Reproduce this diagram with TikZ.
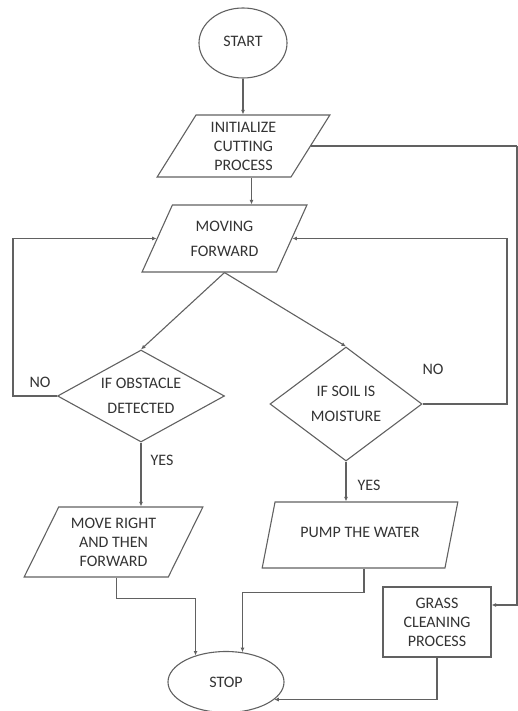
\documentclass[tikz,border=0pt]{standalone}
\usepackage{fontspec}
\setmainfont{Carlito}
\usetikzlibrary{shapes.geometric,arrows.meta}
\begin{document}
\begin{tikzpicture}[x=1pt,y=-1pt,
  line/.style={draw=black!62, line width=1.1pt},
  arr/.style={line, -{Latex[length=4.5pt,width=4pt]}},
  txt/.style={text=black!80, font=\fontsize{16}{19}\selectfont, align=center},
  base/.style={txt, draw=black!62, line width=1.1pt, inner sep=0pt},
  para/.style={base, trapezium, trapezium left angle=61, trapezium right angle=119, trapezium stretches=true},
  dec/.style={base, diamond},
  term/.style={base, ellipse},
  proc/.style={base, rectangle},
  lbl/.style={txt}
]
\useasboundingbox (0,0) rectangle (518,711);

\node[term, minimum width=88pt, minimum height=70pt] (start) at (243,43) {\raisebox{4pt}{START}};
\node[para, minimum width=173pt, minimum height=62pt] (init) at (243.5,146) {INITIALIZE\\CUTTING\\PROCESS};
\node[para, minimum width=165pt, minimum height=67pt] (mov) at (224.5,238.5) {MOVING\\[6pt]FORWARD};
\node[dec, aspect=1.8, minimum width=167pt, minimum height=92pt] (obs) at (141,396) {IF OBSTACLE\\[6pt]DETECTED};
\node[dec, aspect=1.33, minimum width=152pt, minimum height=114pt] (soil) at (346,404) {IF SOIL IS\\[6pt]MOISTURE};
\node[para, minimum width=179pt, minimum height=70pt] (mr) at (113.5,542) {MOVE RIGHT\\AND THEN\\FORWARD};
\node[para, minimum width=196pt, minimum height=66pt] (pump) at (360,535) {\raisebox{6pt}{PUMP THE WATER}};
\node[proc, minimum width=108pt, minimum height=70pt] (grass) at (437,622) {GRASS\\CLEANING\\PROCESS};
\node[term, minimum width=116pt, minimum height=61pt] (stop) at (226,682) {STOP};

\node[lbl] (no1) at (40,382) {NO};
\node[lbl] (no2) at (433,369) {NO};
\node[lbl] (yes1) at (162,460) {YES};
\node[lbl] (yes2) at (369,485) {YES};

\coordinate (rc) at (517,0);
\coordinate (lc) at (13,0);
\coordinate (rc2) at (507,0);

\draw[arr] (start.south) -- (start.south |- init.north);
\draw[arr] ([xshift=8pt]init.south) -- ([xshift=8pt]init.south |- mov.north);
\draw[line] (init.east) -- (init.east -| rc);
\draw[arr] (init.east -| rc) |- ([yshift=17pt]grass.east);
\draw[arr] (mov.south) -- (obs.north);
\draw[arr] (mov.south) -- (soil.north);
\draw[arr] (obs.west) -- (obs.west -| lc) |- (mov.west);
\draw[arr] (soil.east) -- (soil.east -| rc2) |- (mov.east);
\draw[arr] (obs.south) -- (obs.south |- mr.north);
\draw[arr] (soil.south) -- (soil.south |- pump.north);
\draw[arr] ([xshift=3pt]mr.south) -- ++(0,21) -| (stop.139);
\draw[arr] ([xshift=4pt]pump.south) -- ++(0,24) -| (stop.61);
\draw[arr] (grass.south) |- (stop.-20);
\end{tikzpicture}
\end{document}
